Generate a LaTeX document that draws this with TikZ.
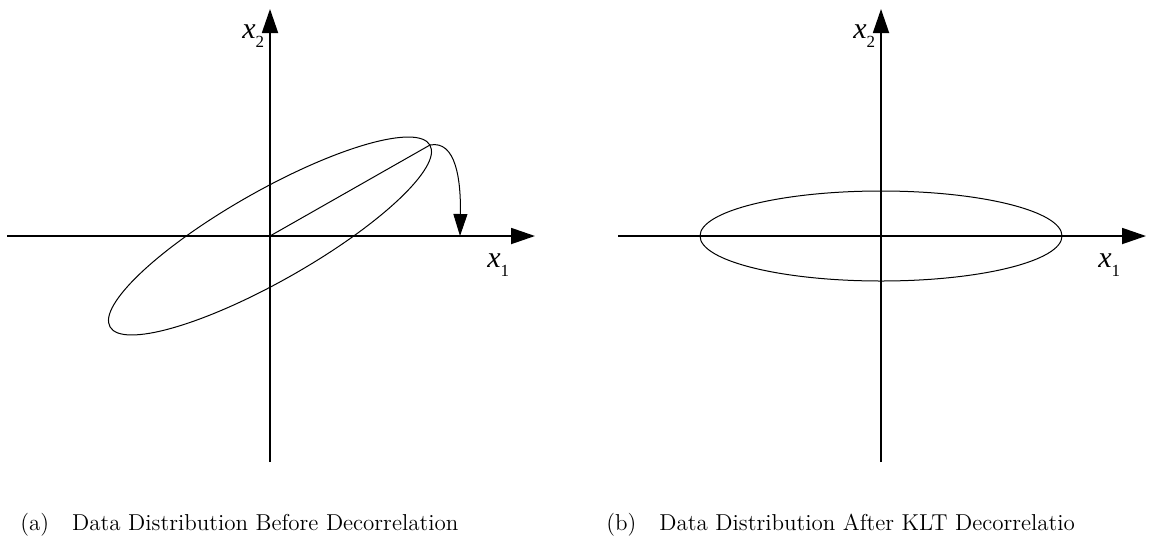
\documentclass[tikz,border=0pt]{standalone}
\usepackage{fontspec}
\usetikzlibrary{arrows.meta,calc}
\newfontfamily\lblfont{Liberation Serif}[ItalicFont={Liberation Serif Italic}]
\newcommand{\axl}[1]{{\itshape x}\raisebox{-4.5pt}{\fontsize{8.5}{8.5}\selectfont #1}}

\begin{document}
\begin{tikzpicture}[x=0.5pt,y=-0.5pt,
  axis/.style={line width=0.9pt,-{Triangle[length=12pt,width=8pt]}},
  curve/.style={line width=0.5pt},
  lbl/.style={inner sep=0pt,anchor=base west,font=\lblfont\fontsize{15}{15}\selectfont},
  captxt/.style={inner sep=0pt,anchor=base west,font=\fontsize{11.5}{13}\selectfont}]
  \useasboundingbox (0,0) rectangle (1149,542);
  % axes of both panels
  \foreach \p/\ox in {a/270,b/881}{
    \coordinate (o\p) at (\ox,236);
    \coordinate (w\p) at (\ox-263,236);
    \coordinate (e\p) at (\ox+265,236);
    \coordinate (s\p) at (\ox,462);
    \coordinate (n\p) at (\ox,9);
    \draw[axis] (w\p) -- (e\p);
    \draw[axis] (s\p) -- (n\p);
    \node[lbl] (xone\p) at (\ox+217,267) {\axl{1}};
    \node[lbl] (xtwo\p) at (\ox-28,38) {\axl{2}};
  }
  % (a) correlated data
  \coordinate (pk) at (430,145);
  \coordinate (ta) at (460,236);
  \draw[curve,rotate around={29.6:(oa)}] (oa) ellipse[x radius=184,y radius=45];
  \draw[curve] (oa) -- (pk);
  \draw[curve,-{Triangle[length=11pt,width=7pt]}] (pk) .. controls (456,140) and (461,180) .. (ta);
  % (b) decorrelated data
  \draw[curve] (ob) ellipse[x radius=181,y radius=45];
  \node[captxt] (capa) at (20,530) {(a)\quad Data Distribution Before Decorrelation};
  \node[captxt] (capb) at (606,530) {(b)\quad Data Distribution After KLT Decorrelatio};
\end{tikzpicture}
\end{document}
